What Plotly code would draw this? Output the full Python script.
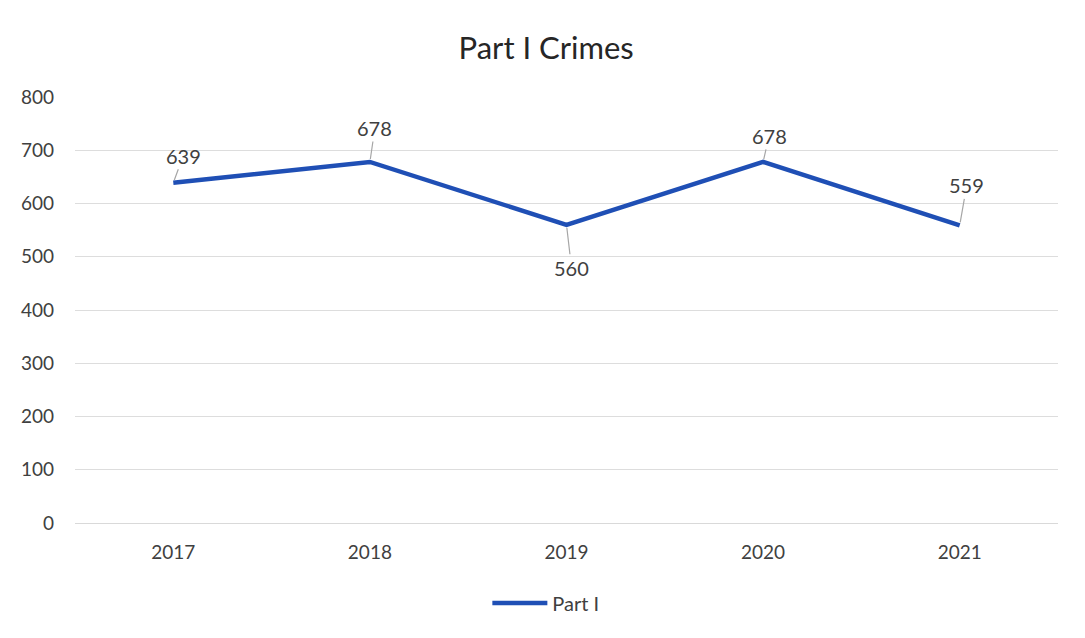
import plotly.graph_objects as go

years = ["2017", "2018", "2019", "2020", "2021"]
part1 = [639, 678, 560, 678, 559]
y_ticks = [0, 100, 200, 300, 400, 500, 600, 700, 800]
label_ax = [10, 5, 5, 6, 7]
label_ay = [-27, -34, 43, -26, -40]

fig = go.Figure()
fig.add_trace(go.Scatter(
    x=years, y=part1, mode="lines", name="Part I",
    line=dict(color="#1F4FB5", width=4.5),
))

for i, (y, ax, ay) in enumerate(zip(part1, label_ax, label_ay)):
    fig.add_annotation(
        x=i, y=y, xref="x", yref="y", text=str(y), showarrow=True, arrowhead=0,
        arrowcolor="#A6A6A6", arrowwidth=1.2, ax=ax, ay=ay,
        font=dict(size=20, color="#404040"), standoff=3,
    )

fig.update_layout(
    width=1085, height=638,
    paper_bgcolor="white", plot_bgcolor="white",
    font=dict(family="Lato, Open Sans, sans-serif", color="#404040"),
    title=dict(text="Part I Crimes", x=0.496, xanchor="center", xref="container",
               y=1 - 40 / 638, yanchor="middle", yref="container",
               font=dict(size=31, color="#262626")),
    margin=dict(l=67, r=35, t=89, b=123),
    xaxis=dict(type="category", range=[-0.5, 4.5], showgrid=False,
               showline=True, linecolor="#D9D9D9", ticks="",
               tickfont=dict(size=19, color="#404040"),
               ticklabelstandoff=12),
    yaxis=dict(range=[0, 800], tickvals=y_ticks, showgrid=True,
               gridcolor="#DDDDDD", zeroline=False, showline=False,
               ticks="", ticklen=0, tickfont=dict(size=19, color="#404040"),
               ticklabelstandoff=20),
    showlegend=True,
    legend=dict(orientation="h", x=0.479, xanchor="center", y=-0.188,
                yanchor="middle", itemwidth=55,
                font=dict(size=20, color="#404040")),
)

fig.write_html("out.html")
